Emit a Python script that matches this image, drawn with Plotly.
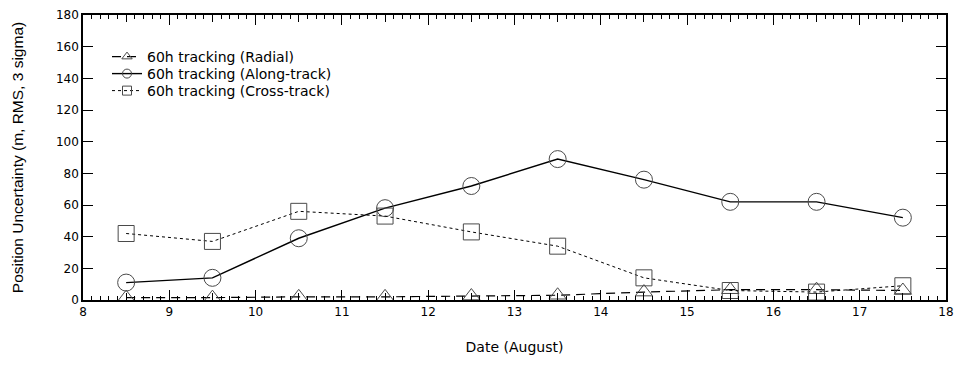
import plotly.graph_objects as go

dates = [8.5, 9.5, 10.5, 11.5, 12.5, 13.5, 14.5, 15.5, 16.5, 17.5]
radial = [1.5, 1.5, 2, 2, 2.5, 3, 5, 6.5, 6.5, 6]
along_track = [11, 14, 39, 58, 72, 89, 76, 62, 62, 52]
cross_track = [42, 37, 56, 53, 43, 34, 14, 6, 5, 9]

series_names = ["60h tracking (Radial)", "60h tracking (Along-track)", "60h tracking (Cross-track)"]
x_ticks = list(range(8, 19))
y_ticks = list(range(0, 181, 20))

FONT_H = "DejaVu Sans, sans-serif"
FONT_V = "Liberation Sans, Arial, Helvetica, sans-serif"
MK = "#4a4a4a"

styles = [
    dict(line=dict(color="black", width=1.2, dash="9px,6px"), symbol="triangle-up-open", size=15),
    dict(line=dict(color="black", width=1.4), symbol="circle-open", size=17),
    dict(line=dict(color="black", width=1, dash="dot"), symbol="square-open", size=16),
]
values = [radial, along_track, cross_track]
legend_ids = ["legend", "legend2", "legend3"]

fig = go.Figure()
for name, vals, st in zip(series_names, values, styles):
    fig.add_trace(go.Scatter(
        x=dates, y=vals, mode="lines+markers", name=name, showlegend=False,
        line=st["line"],
        marker=dict(symbol=st["symbol"], size=st["size"], color=MK, line=dict(width=1)),
        cliponaxis=False))
# legend entries (smaller legend markers, one legend per row for tight spacing)
for name, st, lid in zip(series_names, styles, legend_ids):
    fig.add_trace(go.Scatter(
        x=[None], y=[None], mode="lines+markers", name=name, legend=lid,
        line=st["line"],
        marker=dict(symbol=st["symbol"], size=9, color=MK, line=dict(width=1))))

# medium ticks at half-units
fig.add_trace(go.Scatter(x=[8, 18], y=[0, 0], xaxis="x2", mode="markers",
                         marker=dict(opacity=0), showlegend=False, hoverinfo="skip"))

legend_common = dict(x=(107 - 83) / 863, xanchor="left", yanchor="middle",
                     bgcolor="rgba(0,0,0,0)", font=dict(family=FONT_H, size=14, color="black"),
                     itemwidth=30)
row_centers = [57, 74, 91]
leg = {}
for lid, yc in zip(legend_ids, row_centers):
    d = dict(legend_common)
    d["y"] = (300 - yc) / 285
    leg[lid] = d

fig.update_layout(
    width=955, height=365,
    margin=dict(l=83, r=9, t=15, b=65, autoexpand=False),
    paper_bgcolor="white", plot_bgcolor="white",
    font=dict(family=FONT_H, color="black", size=12),
    showlegend=True,
    **leg,
    xaxis=dict(range=[8, 18], tickvals=x_ticks, ticks="inside", ticklen=10,
               tickwidth=1.2, tickcolor="black", automargin=False,
               minor=dict(dtick=0.1, ticks="inside", ticklen=4, tickcolor="black", tickwidth=1),
               showline=True, linecolor="black", linewidth=1.5, mirror="ticks",
               showgrid=False, zeroline=False,
               title=dict(text="Date (August)", font=dict(family=FONT_H, size=14), standoff=24),
               tickfont=dict(family=FONT_H, size=12)),
    xaxis2=dict(range=[8, 18], overlaying="x", matches="x", side="bottom",
                dtick=0.5, tick0=8.5, ticks="inside", ticklen=7, tickwidth=1,
                tickcolor="black", showticklabels=False, showgrid=False, automargin=False,
                zeroline=False, showline=False, mirror="ticks"),
    yaxis=dict(range=[0, 180], tickvals=y_ticks, ticks="inside", ticklen=10,
               tickwidth=1.2, tickcolor="black", automargin=False,
               showline=True, linecolor="black", linewidth=1.5, mirror="ticks",
               showgrid=False, zeroline=False,
               title=dict(text="Position Uncertainty (m, RMS, 3 sigma)",
                          font=dict(family=FONT_V, size=15.5), standoff=29),
               tickfont=dict(family=FONT_H, size=12)),
)

fig.write_html("out.html")
